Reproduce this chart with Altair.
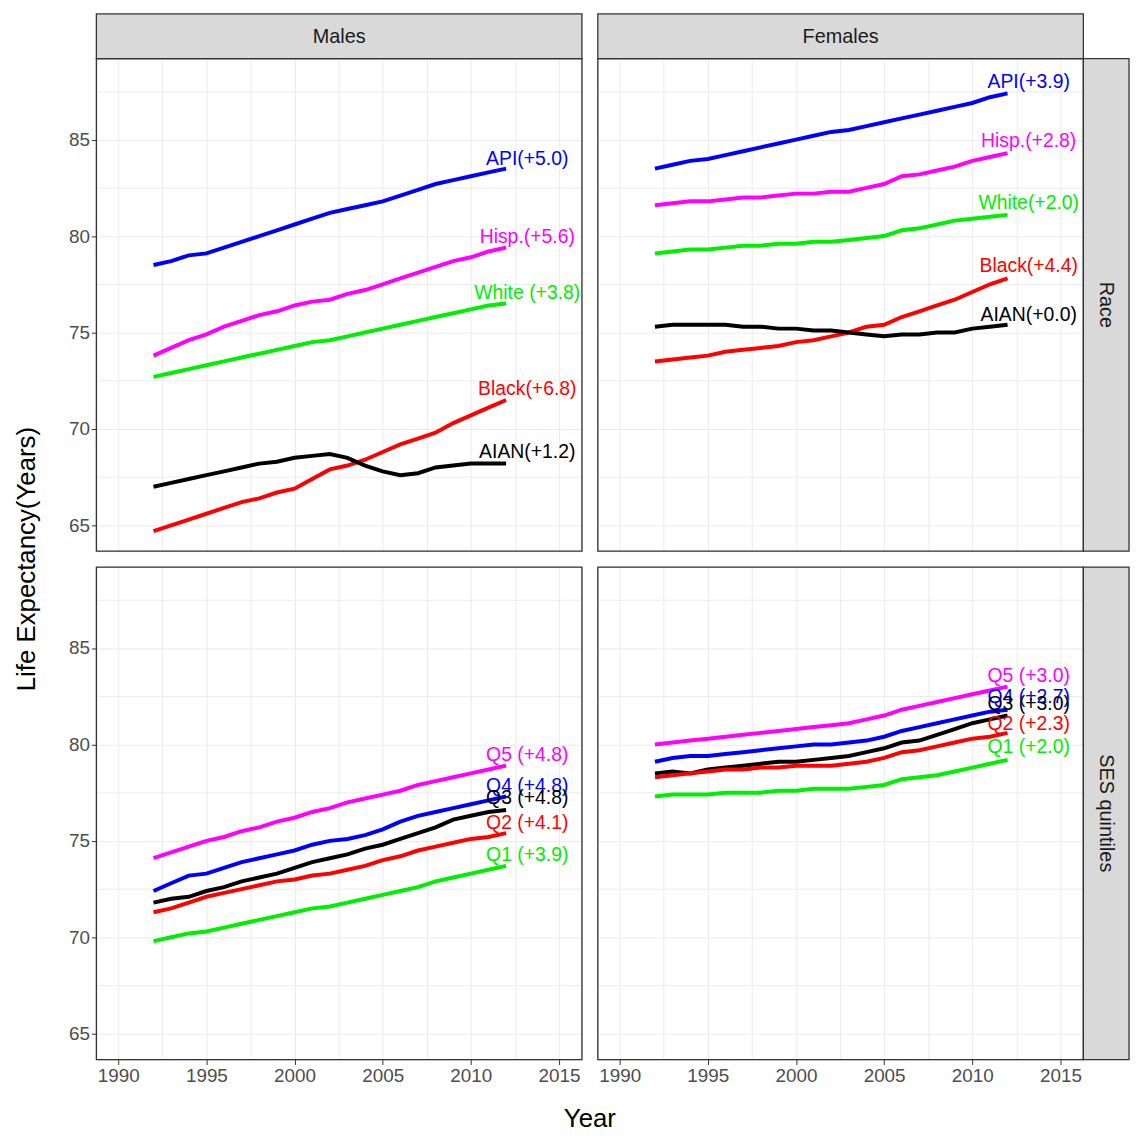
import altair as alt
import pandas as pd

years = list(range(1992, 2013))

male_race = {
    "API":   [78.5,78.7,79.0,79.1,79.4,79.7,80.0,80.3,80.6,80.9,81.2,81.4,81.6,81.8,82.1,82.4,82.7,82.9,83.1,83.3,83.5],
    "Hisp.": [73.8,74.2,74.6,74.9,75.3,75.6,75.9,76.1,76.4,76.6,76.7,77.0,77.2,77.5,77.8,78.1,78.4,78.7,78.9,79.2,79.4],
    "White": [72.7,72.9,73.1,73.3,73.5,73.7,73.9,74.1,74.3,74.5,74.6,74.8,75.0,75.2,75.4,75.6,75.8,76.0,76.2,76.4,76.5],
    "Black": [64.7,65.0,65.3,65.6,65.9,66.2,66.4,66.7,66.9,67.4,67.9,68.1,68.4,68.8,69.2,69.5,69.8,70.3,70.7,71.1,71.5],
    "AIAN":  [67.0,67.2,67.4,67.6,67.8,68.0,68.2,68.3,68.5,68.6,68.7,68.5,68.1,67.8,67.6,67.7,68.0,68.1,68.2,68.2,68.2],
}
female_race = {
    "API":   [83.5,83.7,83.9,84.0,84.2,84.4,84.6,84.8,85.0,85.2,85.4,85.5,85.7,85.9,86.1,86.3,86.5,86.7,86.9,87.2,87.4],
    "Hisp.": [81.6,81.7,81.8,81.8,81.9,82.0,82.0,82.1,82.2,82.2,82.3,82.3,82.5,82.7,83.1,83.2,83.4,83.6,83.9,84.1,84.3],
    "White": [79.1,79.2,79.3,79.3,79.4,79.5,79.5,79.6,79.6,79.7,79.7,79.8,79.9,80.0,80.3,80.4,80.6,80.8,80.9,81.0,81.1],
    "Black": [73.5,73.6,73.7,73.8,74.0,74.1,74.2,74.3,74.5,74.6,74.8,75.0,75.3,75.4,75.8,76.1,76.4,76.7,77.1,77.5,77.8],
    "AIAN":  [75.3,75.4,75.4,75.4,75.4,75.3,75.3,75.2,75.2,75.1,75.1,75.0,74.9,74.8,74.9,74.9,75.0,75.0,75.2,75.3,75.4],
}
male_ses = {
    "Q5": [74.1,74.4,74.7,75.0,75.2,75.5,75.7,76.0,76.2,76.5,76.7,77.0,77.2,77.4,77.6,77.9,78.1,78.3,78.5,78.7,78.9],
    "Q4": [72.4,72.8,73.2,73.3,73.6,73.9,74.1,74.3,74.5,74.8,75.0,75.1,75.3,75.6,76.0,76.3,76.5,76.7,76.9,77.1,77.3],
    "Q3": [71.8,72.0,72.1,72.4,72.6,72.9,73.1,73.3,73.6,73.9,74.1,74.3,74.6,74.8,75.1,75.4,75.7,76.1,76.3,76.5,76.6],
    "Q2": [71.3,71.5,71.8,72.1,72.3,72.5,72.7,72.9,73.0,73.2,73.3,73.5,73.7,74.0,74.2,74.5,74.7,74.9,75.1,75.2,75.4],
    "Q1": [69.8,70.0,70.2,70.3,70.5,70.7,70.9,71.1,71.3,71.5,71.6,71.8,72.0,72.2,72.4,72.6,72.9,73.1,73.3,73.5,73.7],
}
female_ses = {
    "Q5": [80.0,80.1,80.2,80.3,80.4,80.5,80.6,80.7,80.8,80.9,81.0,81.1,81.3,81.5,81.8,82.0,82.2,82.4,82.6,82.8,83.0],
    "Q4": [79.1,79.3,79.4,79.4,79.5,79.6,79.7,79.8,79.9,80.0,80.0,80.1,80.2,80.4,80.7,80.9,81.1,81.3,81.5,81.7,81.8],
    "Q3": [78.5,78.6,78.5,78.7,78.8,78.9,79.0,79.1,79.1,79.2,79.3,79.4,79.6,79.8,80.1,80.2,80.5,80.8,81.1,81.3,81.5],
    "Q2": [78.3,78.4,78.5,78.6,78.7,78.7,78.8,78.8,78.9,78.9,78.9,79.0,79.1,79.3,79.6,79.7,79.9,80.1,80.3,80.4,80.6],
    "Q1": [77.3,77.4,77.4,77.4,77.5,77.5,77.5,77.6,77.6,77.7,77.7,77.7,77.8,77.9,78.2,78.3,78.4,78.6,78.8,79.0,79.2],
}

colors = {"API": "blue", "Hisp.": "magenta", "White": "#00ee00", "Black": "red", "AIAN": "black",
          "Q5": "magenta", "Q4": "blue", "Q3": "black", "Q2": "red", "Q1": "#00ee00"}

labels = {
    ("M", "R"): {"API": ("API(+5.0)", 84.0), "Hisp.": ("Hisp.(+5.6)", 79.95), "White": ("White (+3.8)", 77.06),
                 "Black": ("Black(+6.8)", 72.06), "AIAN": ("AIAN(+1.2)", 68.8)},
    ("F", "R"): {"API": ("API(+3.9)", 88.0), "Hisp.": ("Hisp.(+2.8)", 84.95), "White": ("White(+2.0)", 81.7),
                 "Black": ("Black(+4.4)", 78.45), "AIAN": ("AIAN(+0.0)", 75.9)},
    ("M", "S"): {"Q5": ("Q5 (+4.8)", 79.43), "Q4": ("Q4 (+4.8)", 77.84), "Q3": ("Q3 (+4.8)", 77.2),
                 "Q2": ("Q2 (+4.1)", 75.9), "Q1": ("Q1 (+3.9)", 74.28)},
    ("F", "S"): {"Q5": ("Q5 (+3.0)", 83.56), "Q4": ("Q4 (+2.7)", 82.47), "Q3": ("Q3 (+3.0)", 82.1),
                 "Q2": ("Q2 (+2.3)", 81.08), "Q1": ("Q1 (+2.0)", 79.85)},
}
label_year = 2013.2

W, H = 489, 496
xscale = alt.Scale(domain=[1988.76, 2016.3], nice=False, zero=False)
yscale = alt.Scale(domain=[63.66, 89.2], nice=False, zero=False)
lab5 = "datum.value % 5 == 0 ? datum.label : ''"
tickcol = {"condition": {"test": "datum.value % 5 == 0", "value": "#333333"}, "value": "transparent"}


def panel(data, key, left, bottom, top_strip=None, right_strip=None, extra=None):
    rows = []
    for s, vals in data.items():
        for y, v in zip(years, vals):
            rows.append({"year": y, "le": v, "s": s, "c": colors[s]})
    df = pd.DataFrame(rows)
    lrows = [{"year": label_year, "le": ly, "t": t, "c": colors[s]} for s, (t, ly) in labels[key].items()]
    ldf = pd.DataFrame(lrows)

    xaxis = alt.Axis(values=[1987.5 + 2.5 * i for i in range(13)], labelExpr=lab5, format="d",
                     title=None, labels=bottom, ticks=bottom, labelFontSize=19, labelColor="#4d4d4d",
                     tickColor=tickcol, gridColor="#ebebeb", domain=False, labelFont="Liberation Sans")
    yaxis = alt.Axis(values=[62.5 + 2.5 * i for i in range(12)], labelExpr=lab5,
                     title=None, labels=left, ticks=left, labelFontSize=19, labelColor="#4d4d4d",
                     tickColor=tickcol, gridColor="#ebebeb", domain=False, labelFont="Liberation Sans")
    lines = alt.Chart(df).mark_line(strokeWidth=4, clip=True).encode(
        x=alt.X("year:Q", scale=xscale, axis=xaxis),
        y=alt.Y("le:Q", scale=yscale, axis=yaxis),
        color=alt.Color("c:N", scale=None),
        detail="s:N",
    )
    text = alt.Chart(ldf).mark_text(fontSize=19.5, font="Liberation Sans", align="center").encode(
        x=alt.X("year:Q", scale=xscale), y=alt.Y("le:Q", scale=yscale),
        text="t:N", color=alt.Color("c:N", scale=None))
    one = pd.DataFrame({"a": [0]})
    frame = alt.Chart(one).mark_rect(fill=None, stroke="#333333", strokeWidth=1.3).encode(
        x=alt.value(0), x2=alt.value(W), y=alt.value(0), y2=alt.value(H))
    layers = [lines, text, frame]
    if top_strip:
        layers.append(alt.Chart(one).mark_rect(fill="#d9d9d9", stroke="#333", strokeWidth=1.3).encode(
            x=alt.value(0), x2=alt.value(W), y=alt.value(-45), y2=alt.value(0)))
        layers.append(alt.Chart(one).mark_text(fontSize=20, font="Liberation Sans", color="#1a1a1a").encode(
            x=alt.value(W / 2), y=alt.value(-22), text=alt.value(top_strip)))
    if right_strip:
        layers.append(alt.Chart(one).mark_rect(fill="#d9d9d9", stroke="#333", strokeWidth=1.3).encode(
            x=alt.value(W), x2=alt.value(W + 46), y=alt.value(0), y2=alt.value(H)))
        layers.append(alt.Chart(one).mark_text(fontSize=20, font="Liberation Sans", color="#1a1a1a", angle=90).encode(
            x=alt.value(W + 23), y=alt.value(H / 2), text=alt.value(right_strip)))
    if extra:
        layers.extend(extra)
    return alt.layer(*layers).properties(width=W, height=H)


one = pd.DataFrame({"a": [0]})
ytitle = alt.Chart(one).mark_text(fontSize=26, font="Liberation Sans", angle=270).encode(
    x=alt.value(-70), y=alt.value(H + 8), text=alt.value("Life Expectancy(Years)"))
xtitle = alt.Chart(one).mark_text(fontSize=26, font="Liberation Sans").encode(
    x=alt.value(W + 8), y=alt.value(H + 60), text=alt.value("Year"))

p1 = panel(male_race, ("M", "R"), True, False, top_strip="Males", extra=[ytitle])
p2 = panel(female_race, ("F", "R"), False, False, top_strip="Females", right_strip="Race")
p3 = panel(male_ses, ("M", "S"), True, True, extra=[xtitle])
p4 = panel(female_ses, ("F", "S"), False, True, right_strip="SES quintiles")

chart = alt.concat(p1, p2, p3, p4, columns=2, spacing=16, bounds="flush").properties(
    padding={"left": 5, "top": 0, "right": 2, "bottom": 0},
).configure_view(stroke="#333333", strokeWidth=1.3).configure(background="white")

chart.save("out.html", embed_options={"renderer": "svg", "actions": False})
